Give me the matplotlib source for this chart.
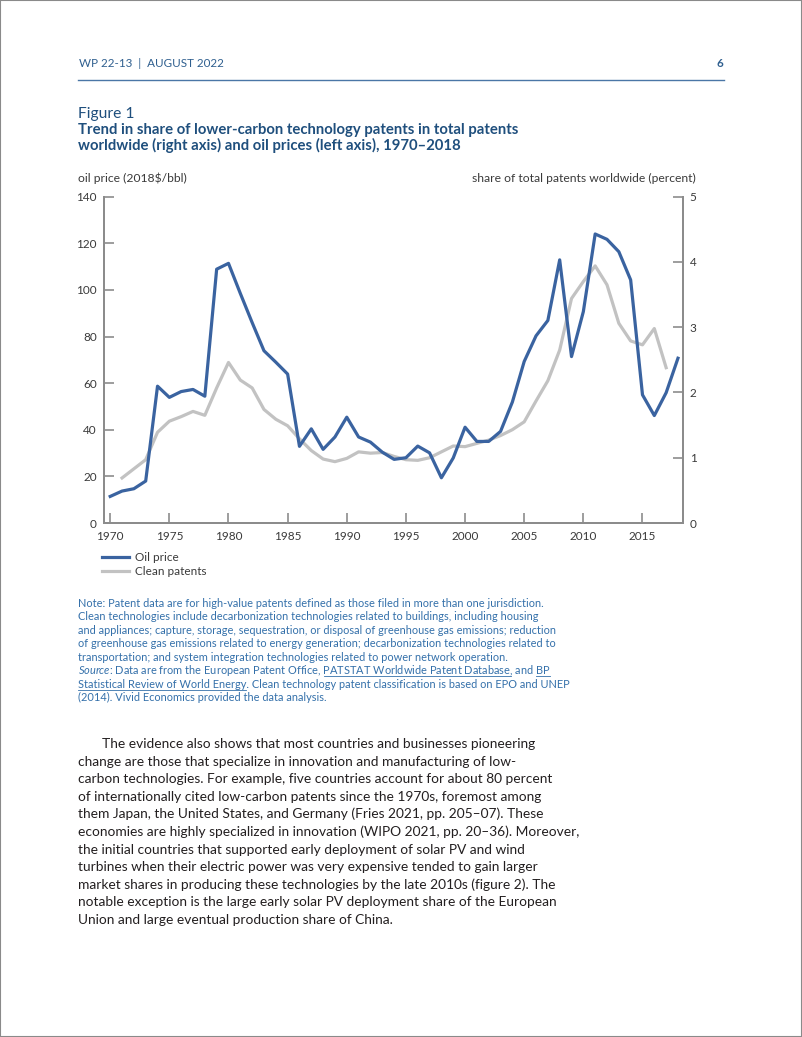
import matplotlib
matplotlib.use("Agg")
import matplotlib.pyplot as plt
from matplotlib.lines import Line2D
from matplotlib.patches import Rectangle

plt.rcParams['font.family'] = ['Lato', 'DejaVu Sans']
plt.rcParams['mathtext.fontset'] = 'custom'
plt.rcParams['mathtext.rm'] = 'Lato'
plt.rcParams['mathtext.it'] = 'Lato:italic'

# oil price, 2018 $/bbl (left axis)
oil_years = list(range(1970, 2019))
oil_price = [11.4, 13.7, 14.7, 18.0, 58.7, 53.9, 56.4, 57.3, 54.4, 108.9,
             111.4, 98.5, 86.0, 73.9, 69.0, 63.9, 32.9, 40.4, 31.6, 36.9,
             45.4, 36.9, 34.7, 30.4, 27.3, 28.0, 33.0, 30.1, 19.4, 27.9,
             41.1, 35.0, 35.0, 39.3, 51.9, 69.3, 80.3, 86.9, 112.9, 71.4,
             90.7, 124.0, 121.7, 116.4, 104.3, 55.0, 46.1, 55.9, 70.7]

# clean patents, share of total patents worldwide, percent (right axis)
clean_years = list(range(1971, 2018))
clean_share = [0.69, 0.83, 0.97, 1.39, 1.56, 1.63, 1.71, 1.65, 2.07,
               2.46, 2.19, 2.07, 1.74, 1.59, 1.49, 1.29, 1.11, 0.98, 0.94,
               0.99, 1.09, 1.07, 1.08, 1.02, 0.97, 0.96, 1.00, 1.09, 1.18,
               1.17, 1.22, 1.27, 1.34, 1.43, 1.55, 1.87, 2.18, 2.65, 3.44,
               3.70, 3.94, 3.65, 3.06, 2.79, 2.73, 2.98, 2.38]

left_ticks = [0, 20, 40, 60, 80, 100, 120, 140]
right_ticks = [0, 1, 2, 3, 4, 5]
year_ticks = [1970, 1975, 1980, 1985, 1990, 1995, 2000, 2005, 2010, 2015]

header = "WP 22-13  |  AUGUST 2022"
page_no = "6"
fig_label = "Figure 1"
title_lines = ["Trend in share of lower-carbon technology patents in total patents",
               "worldwide (right axis) and oil prices (left axis), 1970\u20132018"]
left_label = "oil price (2018$/bbl)"
right_label = "share of total patents worldwide (percent)"
legend_labels = ["Oil price", "Clean patents"]

note_lines = [
    "Note: Patent data are for high-value patents defined as those filed in more than one jurisdiction.",
    "Clean technologies include decarbonization technologies related to buildings, including housing",
    "and appliances; capture, storage, sequestration, or disposal of greenhouse gas emissions; reduction",
    "of greenhouse gas emissions related to energy generation; decarbonization technologies related to",
    "transportation; and system integration technologies related to power network operation.",
]
# (text, italic, underlined)
source_lines = [
    [("Source", True, False), (": Data are from the European Patent Office, ", False, False),
     ("PATSTAT Worldwide Patent Database", False, True), (", and ", False, False), ("BP", False, True)],
    [("Statistical Review of World Energy", False, True),
     (". Clean technology patent classification is based on EPO and UNEP", False, False)],
    [("(2014). Vivid Economics provided the data analysis.", False, False)],
]
body_lines = [
    "The evidence also shows that most countries and businesses pioneering",
    "change are those that specialize in innovation and manufacturing of low-",
    "carbon technologies. For example, five countries account for about 80 percent",
    "of internationally cited low-carbon patents since the 1970s, foremost among",
    "them Japan, the United States, and Germany (Fries 2021, pp. 205\u201307). These",
    "economies are highly specialized in innovation (WIPO 2021, pp. 20\u201336). Moreover,",
    "the initial countries that supported early deployment of solar PV and wind",
    "turbines when their electric power was very expensive tended to gain larger",
    "market shares in producing these technologies by the late 2010s (figure 2). The",
    "notable exception is the large early solar PV deployment share of the European",
    "Union and large eventual production share of China.",
]

W, H = 802, 1037
blue_head = "#2f5f8f"
blue_title = "#1f4f7d"
blue_note = "#3470aa"
oil_color = "#3a63a0"
clean_color = "#c2c2c2"
axis_gray = "#8c8c8c"
text_gray = "#3a3a3a"
body_color = "#231f20"

fig = plt.figure(figsize=(W / 100, H / 100), dpi=100)
renderer = fig.canvas.get_renderer()


def fx(x):
    return x / W


def fy(y):
    return 1 - y / H


def text_width(s, size, **kw):
    t = fig.text(0, 0, "|" + s + "|", fontsize=size, **kw)
    w = t.get_window_extent(renderer).width
    t.remove()
    t = fig.text(0, 0, "||", fontsize=size, **kw)
    w -= t.get_window_extent(renderer).width
    t.remove()
    return w


def fit(s, width, **kw):
    return 10 * width / text_width(s, 10, **kw)


def put(x, y, s, size, **kw):
    fig.text(fx(x), fy(y), s, fontsize=size, va="baseline", **kw)


# page border and header
fig.add_artist(Rectangle((0, 0), 1, 1, transform=fig.transFigure, fill=False,
                         edgecolor="#8a8a8a", lw=1.5))
head_size = fit(header, 145)
put(79, 67, header, head_size, color=blue_head)
put(723, 67, page_no, head_size, color=blue_head, weight="bold", ha="right")
fig.add_artist(Line2D([fx(78), fx(724)], [fy(80), fy(80)], color="#4a76a6", lw=1.0))

# figure titles
title_size = fit(title_lines[0], 442, weight="bold")
put(78, 118, fig_label, title_size * 1.05, color=blue_title)
put(78, 134, title_lines[0], title_size, color=blue_title, weight="bold")
put(78, 150, title_lines[1], title_size, color=blue_title, weight="bold")

label_size = fit(right_label, 225)
put(78, 182, left_label, label_size, color=text_gray)
put(696, 182, right_label, label_size, color=text_gray, ha="right")

# chart
tick_size = fit(legend_labels[1], 71)
ax = fig.add_axes([fx(103.7), fy(523), (682.7 - 103.7) / W, (523 - 196.7) / H])
ax2 = ax.twinx()
ax.set_zorder(ax2.get_zorder() + 1)
ax.patch.set_visible(False)

l2, = ax2.plot(clean_years, clean_share, color=clean_color, lw=2.3,
               solid_joinstyle="round", label=legend_labels[1])
l1, = ax.plot(oil_years, oil_price, color=oil_color, lw=2.3,
              solid_joinstyle="round", label=legend_labels[0])

ax.set_xlim(1969.45, 2018.4)
ax.set_ylim(0, 140)
ax2.set_ylim(0, 5)
ax.set_xticks(year_ticks)
ax.set_yticks(left_ticks)
ax2.set_yticks(right_ticks)

for a in (ax, ax2):
    a.spines["top"].set_visible(False)
    for side in ("left", "right", "bottom"):
        a.spines[side].set_color(axis_gray)
        a.spines[side].set_linewidth(1.4)
    a.tick_params(direction="in", length=7, width=1.2, color=axis_gray,
                  labelsize=tick_size, labelcolor=text_gray, pad=5)
ax.tick_params(axis="x", pad=6)

leg = ax.legend(handles=[l1, l2], loc="upper left", bbox_to_anchor=(fx(102), fy(552)),
                bbox_transform=fig.transFigure, frameon=False, borderpad=0,
                borderaxespad=0, handlelength=2.3, handletextpad=0.5,
                labelspacing=0.25, fontsize=tick_size)
for t in leg.get_texts():
    t.set_color(text_gray)

# note and source
note_size = fit(note_lines[0], 465)
y = 607
for line in note_lines:
    put(78, y, line, note_size, color=blue_note)
    y += 13.45
for parts in source_lines:
    pieces = [("$\\mathit{" + s + "}$") if italic else s for s, italic, under in parts]
    put(78, y, "".join(pieces), note_size, color=blue_note)
    prefix = ""
    for piece, (s, italic, under) in zip(pieces, parts):
        if under:
            x = 78 + (text_width(prefix, note_size) if prefix else 0)
            w = text_width(s, note_size)
            fig.add_artist(Line2D([fx(x), fx(x + w)], [fy(y + 2), fy(y + 2)],
                                  color=blue_note, lw=0.6))
        prefix += piece
    y += 13.45

# body text
body_size = fit(body_lines[5], 503)
y = 748
for i, line in enumerate(body_lines):
    put(102 if i == 0 else 78, y, line, body_size, color=body_color)
    y += 17.6

fig.savefig("out.png", dpi=100)
